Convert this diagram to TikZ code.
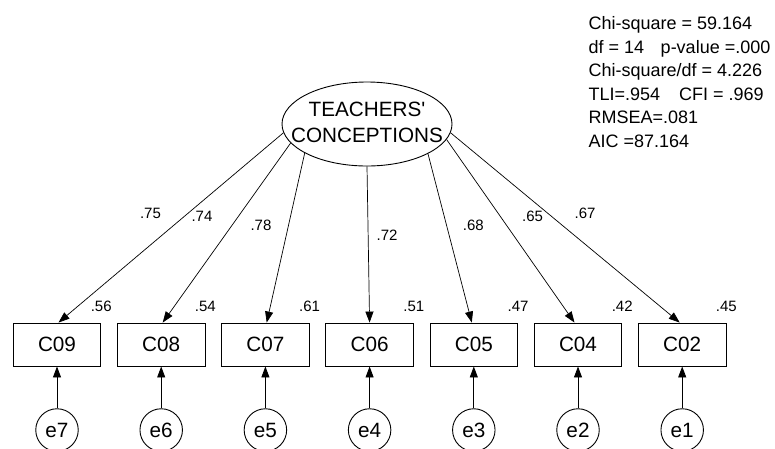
\documentclass[tikz,border=0pt]{standalone}
\usepackage{fontspec}
\setmainfont{Liberation Sans}
\usetikzlibrary{arrows.meta,shapes.geometric}

\begin{document}
\begin{tikzpicture}[x=1pt,y=-1pt,
  mainfont/.style={font=\fontsize{20.7}{26}\selectfont},
  obs/.style={draw, line width=0.9pt, minimum width=87.5pt, minimum height=43pt,
    inner sep=0pt, mainfont},
  err/.style={draw, circle, line width=0.9pt, minimum size=42.5pt, inner sep=0pt, mainfont},
  latent/.style={draw, ellipse, line width=0.9pt, minimum width=170pt,
    minimum height=84pt, inner sep=0pt},
  loadarrow/.style={-{Triangle[length=11pt,width=8pt]}, line width=0.7pt},
  errarrow/.style={-{Triangle[length=11pt,width=8pt]}, line width=0.9pt},
  coef/.style={font=\fontsize{15}{18}\selectfont, inner sep=0pt, anchor=base},
  gof/.style={font=\fontsize{18}{22}\selectfont, inner sep=0pt, anchor=base west}
]
\useasboundingbox (0,0) rectangle (775,448);
\clip (0,0) rectangle (775,448);

% latent factor
\node[latent] (lat) at (367,124) {};
\node[mainfont, align=center, inner sep=0pt] (latname) at (367,122.5)
  {TEACHERS\textquotesingle\\CONCEPTIONS};

% observed indicators
\node[obs] (c09) at (57,344.5)    {C09};
\node[obs] (c08) at (161.2,344.5) {C08};
\node[obs] (c07) at (265.4,344.5) {C07};
\node[obs] (c06) at (369.6,344.5) {C06};
\node[obs] (c05) at (473.8,344.5) {C05};
\node[obs] (c04) at (578,344.5)   {C04};
\node[obs] (c02) at (682.2,344.5) {C02};

% error terms
\node[err] (e7) at (57,430)    {e7};
\node[err] (e6) at (161.2,430) {e6};
\node[err] (e5) at (265.4,430) {e5};
\node[err] (e4) at (369.6,430) {e4};
\node[err] (e3) at (473.8,430) {e3};
\node[err] (e2) at (578,430)   {e2};
\node[err] (e1) at (682.2,430) {e1};

% factor loadings
\draw[loadarrow] (lat.186) -- ([xshift=1.5pt]c09.north);
\draw[loadarrow] (lat.194) -- ([xshift=1.5pt]c08.north);
\draw[loadarrow] (lat.205) -- ([xshift=1.3pt]c07.north);
\draw[loadarrow] (lat.south) -- (c06.north);
\draw[loadarrow] (lat.334) -- ([xshift=-2pt]c05.north);
\draw[loadarrow] (lat.349) -- ([xshift=-3.5pt]c04.north);
\draw[loadarrow] (lat.354) -- ([xshift=-2.5pt]c02.north);

% error paths
\foreach \e/\c in {e7/c09,e6/c08,e5/c07,e4/c06,e3/c05,e2/c04,e1/c02}
  \draw[errarrow] (\e.north) -- (\c.south);

% standardized loadings
\node[coef] (l09) at (150.5,218) {.75};
\node[coef] (l08) at (202,221.7) {.74};
\node[coef] (l07) at (261,230)   {.78};
\node[coef] (l06) at (387,240)   {.72};
\node[coef] (l05) at (473.3,230.7) {.68};
\node[coef] (l04) at (532.5,221.7) {.65};
\node[coef] (l02) at (585,218)   {.67};

% squared multiple correlations
\node[coef] (r09) at ([yshift=11.5pt]c09.north east) {.56};
\node[coef] (r08) at ([yshift=11.5pt]c08.north east) {.54};
\node[coef] (r07) at ([yshift=11.5pt]c07.north east) {.61};
\node[coef] (r06) at ([yshift=11.5pt]c06.north east) {.51};
\node[coef] (r05) at ([yshift=11.5pt]c05.north east) {.47};
\node[coef] (r04) at ([yshift=11.5pt]c04.north east) {.42};
\node[coef] (r02) at ([yshift=11.5pt]c02.north east) {.45};

% fit indices
\node[gof] (fit1) at (588.3,29.5)  {Chi-square = 59.164};
\node[gof] (fit2) at (588.3,53)    {df = 14\hspace{16.7pt}p-value =.000};
\node[gof] (fit3) at (588.3,76.5)  {Chi-square/df = 4.226};
\node[gof] (fit4) at (588.3,100)   {TLI=.954\hspace{19pt}CFI = .969};
\node[gof] (fit5) at (588.3,123.5) {RMSEA=.081};
\node[gof] (fit6) at (588.3,147)   {AIC =87.164};
\end{tikzpicture}
\end{document}
